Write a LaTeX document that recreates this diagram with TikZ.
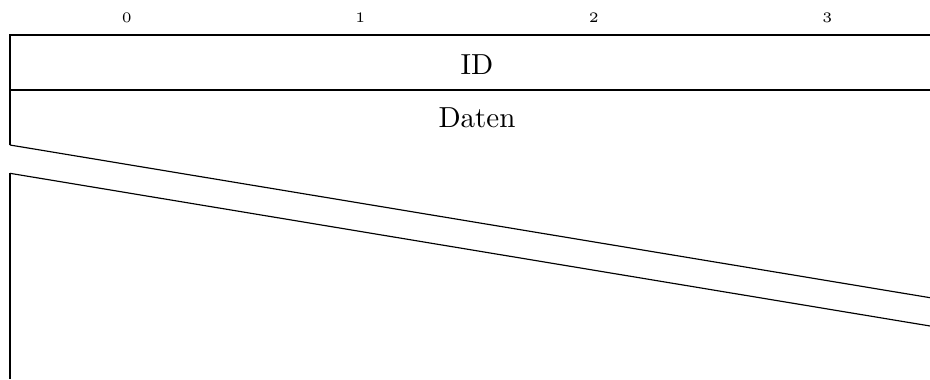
\documentclass[tikz,border=0pt]{standalone}
\begin{document}
\begin{tikzpicture}[x=0.345pt,y=-0.345pt,line width=0.4pt,
  bitnum/.style={font=\tiny,inner sep=0pt},
  fieldtext/.style={font=\normalsize,inner sep=0pt,anchor=base}]
\useasboundingbox (0,0) rectangle (930,379);
\clip (0,0) rectangle (930,379);
% bit headers
\foreach \i in {0,1,2,3}{
  \node[bitnum] (b\i) at ({10+233.5*(\i+0.5)},18) {\i};
}
% word boxes
\draw (944,35) -- (10,35) -- (10,145);
\draw (10,90) -- (944,90);
\node[fieldtext] (id) at (477,74.3) {ID};
\node[fieldtext] (daten) at (477,127) {Daten};
% skipped words
\draw (10,145) -- (944,300);
\draw (10,173.3) -- (944,328.3);
\draw (10,173.3) -- (10,379);
\end{tikzpicture}
\end{document}
